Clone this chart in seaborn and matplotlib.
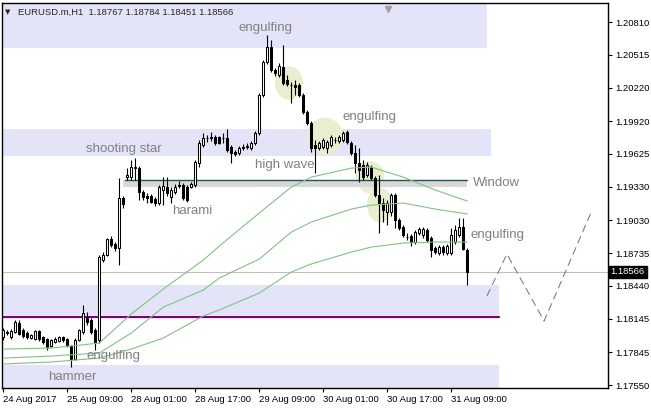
import matplotlib
matplotlib.use("Agg")
import matplotlib.pyplot as plt
from matplotlib.patches import Rectangle, Ellipse
import pandas as pd
import seaborn as sns

# ---------------------------------------------------------------------------
# Data (EURUSD H1)
# ---------------------------------------------------------------------------

OPENS = [
    1.17981, 1.18026, 1.17981, 1.18026, 1.18107, 1.18044, 1.18017, 1.17972, 1.17963, 1.18035,
    1.17981, 1.17963, 1.17900, 1.17936, 1.17945, 1.17981, 1.17963, 1.17900, 1.17783, 1.17954,
    1.18026, 1.18152, 1.18134, 1.18044, 1.17954, 1.18672, 1.18717, 1.18861, 1.18816, 1.18780,
    1.19229, 1.19417, 1.19417, 1.19498, 1.19498, 1.19283, 1.19247, 1.19247, 1.19220, 1.19184,
    1.19301, 1.19328, 1.19238, 1.19283, 1.19346, 1.19346, 1.19328, 1.19328, 1.19346, 1.19543,
    1.19705, 1.19768, 1.19768, 1.19777, 1.19777, 1.19768, 1.19768, 1.19687, 1.19642, 1.19633,
    1.19687, 1.19696, 1.19678, 1.19723, 1.19813, 1.20154, 1.20451, 1.20586, 1.20379, 1.20334,
    1.20406, 1.20289, 1.20244, 1.20244, 1.20244, 1.20154, 1.20002, 1.19903, 1.19705, 1.19678,
    1.19687, 1.19678, 1.19705, 1.19750, 1.19741, 1.19750, 1.19822, 1.19723, 1.19633, 1.19543,
    1.19525, 1.19435, 1.19507, 1.19408, 1.19256, 1.19184, 1.19103, 1.19103, 1.19256, 1.19032,
    1.18969, 1.18879, 1.18888, 1.18834, 1.18915, 1.18897, 1.18942, 1.18870, 1.18780, 1.18735,
    1.18789, 1.18735, 1.18735, 1.18834, 1.18897, 1.18969, 1.18767,
]
HIGHS = [
    1.18062, 1.18044, 1.18053, 1.18134, 1.18134, 1.18062, 1.18035, 1.18008, 1.18044, 1.18044,
    1.17990, 1.17972, 1.17963, 1.17981, 1.17990, 1.17990, 1.17972, 1.17909, 1.17972, 1.18053,
    1.18269, 1.18206, 1.18152, 1.18062, 1.18717, 1.18744, 1.18870, 1.18888, 1.18834, 1.19408,
    1.19247, 1.19498, 1.19570, 1.19588, 1.19516, 1.19301, 1.19274, 1.19265, 1.19238, 1.19346,
    1.19417, 1.19417, 1.19328, 1.19355, 1.19381, 1.19363, 1.19346, 1.19372, 1.19570, 1.19750,
    1.19813, 1.19795, 1.19822, 1.19795, 1.19786, 1.19813, 1.19849, 1.19705, 1.19660, 1.19696,
    1.19714, 1.19723, 1.19741, 1.19831, 1.20172, 1.20469, 1.20693, 1.20648, 1.20397, 1.20442,
    1.20603, 1.20334, 1.20271, 1.20289, 1.20262, 1.20172, 1.20020, 1.19921, 1.19750, 1.19741,
    1.19768, 1.19750, 1.19795, 1.19777, 1.19795, 1.19831, 1.19840, 1.19741, 1.19705, 1.19678,
    1.19570, 1.19552, 1.19525, 1.19426, 1.19435, 1.19229, 1.19211, 1.19274, 1.19274, 1.19050,
    1.18987, 1.18915, 1.18906, 1.18942, 1.18969, 1.18969, 1.18960, 1.18888, 1.18798, 1.18807,
    1.18807, 1.18816, 1.18960, 1.18987, 1.19050, 1.19050, 1.18784,
]
LOWS = [
    1.17954, 1.17999, 1.17963, 1.18017, 1.17999, 1.17972, 1.17963, 1.17963, 1.17954, 1.17945,
    1.17918, 1.17864, 1.17891, 1.17927, 1.17936, 1.17936, 1.17891, 1.17711, 1.17774, 1.17945,
    1.18008, 1.18089, 1.18008, 1.17864, 1.17927, 1.18654, 1.18708, 1.18789, 1.18753, 1.18628,
    1.19139, 1.19390, 1.19390, 1.19390, 1.19211, 1.19211, 1.19184, 1.19184, 1.19157, 1.19166,
    1.19166, 1.19247, 1.19184, 1.19265, 1.19319, 1.19211, 1.19193, 1.19319, 1.19328, 1.19507,
    1.19687, 1.19732, 1.19741, 1.19705, 1.19714, 1.19723, 1.19642, 1.19543, 1.19606, 1.19615,
    1.19660, 1.19669, 1.19660, 1.19705, 1.19795, 1.20136, 1.20433, 1.20361, 1.20325, 1.20316,
    1.20244, 1.20235, 1.20083, 1.20154, 1.20136, 1.19984, 1.19885, 1.19642, 1.19453, 1.19660,
    1.19669, 1.19633, 1.19687, 1.19723, 1.19723, 1.19732, 1.19714, 1.19615, 1.19453, 1.19372,
    1.19390, 1.19417, 1.19390, 1.19238, 1.18915, 1.19014, 1.18987, 1.19068, 1.18960, 1.18942,
    1.18879, 1.18852, 1.18798, 1.18816, 1.18897, 1.18870, 1.18834, 1.18699, 1.18726, 1.18717,
    1.18717, 1.18717, 1.18717, 1.18816, 1.18879, 1.18762, 1.18451,
]
CLOSES = [
    1.18044, 1.18017, 1.18035, 1.18116, 1.18008, 1.17990, 1.17981, 1.17999, 1.18035, 1.17963,
    1.17936, 1.17891, 1.17954, 1.17963, 1.17981, 1.17954, 1.17909, 1.17783, 1.17954, 1.18044,
    1.18197, 1.18116, 1.18026, 1.17936, 1.18699, 1.18717, 1.18861, 1.18807, 1.18780, 1.19229,
    1.19175, 1.19435, 1.19507, 1.19507, 1.19283, 1.19238, 1.19229, 1.19193, 1.19184, 1.19328,
    1.19337, 1.19274, 1.19301, 1.19328, 1.19341, 1.19229, 1.19211, 1.19355, 1.19552, 1.19723,
    1.19768, 1.19772, 1.19777, 1.19723, 1.19723, 1.19764, 1.19660, 1.19633, 1.19628, 1.19678,
    1.19683, 1.19692, 1.19723, 1.19813, 1.20154, 1.20451, 1.20586, 1.20379, 1.20352, 1.20415,
    1.20262, 1.20253, 1.20240, 1.20226, 1.20154, 1.20002, 1.19903, 1.19678, 1.19678, 1.19723,
    1.19750, 1.19732, 1.19777, 1.19746, 1.19777, 1.19813, 1.19732, 1.19633, 1.19543, 1.19480,
    1.19417, 1.19525, 1.19408, 1.19256, 1.19184, 1.19121, 1.19184, 1.19256, 1.19032, 1.18960,
    1.18897, 1.18875, 1.18834, 1.18924, 1.18951, 1.18951, 1.18852, 1.18762, 1.18744, 1.18789,
    1.18744, 1.18798, 1.18897, 1.18942, 1.18969, 1.18771, 1.18566,
]

# three moving averages, sampled at these bars
MA_BARS = [0, 12, 24, 32, 40, 50, 54, 64, 72, 77, 87, 92, 100, 108, 116]
MA_FAST = [1.17873, 1.17882, 1.17927, 1.18188, 1.18412, 1.18672, 1.18798, 1.19095,
           1.19328, 1.19417, 1.19498, 1.19507, 1.19417, 1.19301, 1.19202]
MA_MID = [1.17792, 1.17810, 1.17837, 1.18017, 1.18250, 1.18403, 1.18511, 1.18681,
          1.18924, 1.19014, 1.19130, 1.19166, 1.19184, 1.19130, 1.19086]
MA_SLOW = [1.17739, 1.17757, 1.17792, 1.17873, 1.17972, 1.18170, 1.18224, 1.18376,
           1.18565, 1.18637, 1.18744, 1.18789, 1.18825, 1.18834, 1.18834]

# hand-drawn forecast zigzag
PATH_BARS = [120.9, 125.9, 135.2, 147.2]
PATH_PRICES = [1.18349, 1.18726, 1.18125, 1.19121]

# support / resistance zones (low, high, last bar)
ZONES = [(1.20577, 1.2100, 120.9), (1.19606, 1.19849, 121.9),
         (1.18179, 1.18448, 123.9), (1.17500, 1.17730, 123.9)]
WINDOW = (1.19328, 1.19395)
PURPLE_LEVEL = 1.18161
LAST_PRICE = 1.18566

Y_TICKS = [1.20810, 1.20515, 1.20220, 1.19920, 1.19625, 1.19330,
           1.19030, 1.18735, 1.18440, 1.18145, 1.17845, 1.17550]
X_TICK_BARS = [0, 16, 32, 48, 64, 80, 96, 112]
X_TICK_LABELS = ["24 Aug 2017", "25 Aug 09:00", "28 Aug 01:00", "28 Aug 17:00",
                 "29 Aug 09:00", "30 Aug 01:00", "30 Aug 17:00", "31 Aug 09:00"]

PATTERNS = [
    ("engulfing", 58.7, 1.20756), ("shooting star", 20.7, 1.19669),
    ("harami", 42.2, 1.19113), ("high wave", 62.9, 1.19525),
    ("engulfing", 84.7, 1.19957), ("Window", 117.4, 1.19364),
    ("engulfing", 116.7, 1.18897), ("engulfing", 20.7, 1.17810),
    ("hammer", 11.2, 1.17622),
]

sns.set_style("white")
plt.rcParams["font.family"] = ["Liberation Sans", "DejaVu Sans"]

fig = plt.figure(figsize=(6.51, 4.09), dpi=100)
ax = fig.add_axes([2.3 / 651, 21.3 / 409, 606 / 651, 384.4 / 409])
ax.set_xlim(-0.25, 151.25)
ax.set_ylim(1.17526, 1.20978)

# background objects
for low, high, end in ZONES:
    ax.add_patch(Rectangle((-1, low), end + 1, high - low, color="#e4e4f8", lw=0, zorder=0))
ax.add_patch(Rectangle((30, WINDOW[0]), 86, WINDOW[1] - WINDOW[0], color="#d8d8d8", lw=0, zorder=0.5))
ax.plot([30.5, 116], [WINDOW[1]] * 2, color="#2f4f4f", lw=1.0, zorder=0.6)
for cx, cy, w, h in [(71.4, 1.20262, 7, 0.0030), (80.4, 1.19786, 9, 0.0033),
                     (91.7, 1.19417, 7, 0.0029), (94.2, 1.19166, 6.5, 0.0031)]:
    ax.add_patch(Ellipse((cx, cy), w, h, color="#e8eecf", lw=0, zorder=0.4))
ax.axhline(LAST_PRICE, color="#c0c0c0", lw=0.8, zorder=0.7)
ax.plot([-1, 123.9], [PURPLE_LEVEL] * 2, color="#800080", lw=1.6, zorder=1)

# candles
for i, (o, h, l, c) in enumerate(zip(OPENS, HIGHS, LOWS, CLOSES)):
    ax.vlines(i, l, h, color="black", lw=0.8, zorder=2)
    face = "white" if c >= o else "black"
    ax.bar(i, max(abs(c - o), 0.00001), bottom=min(o, c), width=0.55,
           color=face, edgecolor="black", lw=0.75, zorder=3)

# moving averages
ma = pd.DataFrame({
    "bar": MA_BARS * 3,
    "price": MA_FAST + MA_MID + MA_SLOW,
    "ma": ["fast"] * len(MA_BARS) + ["mid"] * len(MA_BARS) + ["slow"] * len(MA_BARS),
})
sns.lineplot(data=ma, x="bar", y="price", hue="ma", palette=["#82c282"] * 3,
             legend=False, lw=0.8, ax=ax, zorder=4)

ax.plot(PATH_BARS, PATH_PRICES, color="#808080", lw=0.8, ls=(0, (7, 4)), zorder=4)

for text, x, y in PATTERNS:
    ax.text(x, y, text, color="#808080", fontsize=9.5, ha="left", va="center", zorder=5)

# axes styling, MT4 look
for sp in ax.spines.values():
    sp.set_color("black")
    sp.set_linewidth(1.0)
ax.yaxis.tick_right()
ax.set_yticks(Y_TICKS)
ax.set_yticklabels([f"{v:.5f}" for v in Y_TICKS])
ax.set_xticks(X_TICK_BARS)
ax.set_xticklabels(X_TICK_LABELS, ha="left")
ax.tick_params(axis="y", which="both", right=True, left=False, direction="out",
               length=3, width=0.8, pad=2, labelsize=6.8, colors="black")
ax.tick_params(axis="x", bottom=True, direction="out", length=3, width=0.8,
               pad=2, labelsize=6.8, colors="black")
ax.set_xlabel("")
ax.set_ylabel("")

ax.text(1.004, LAST_PRICE, f"{LAST_PRICE:.5f}", transform=ax.get_yaxis_transform(),
        color="white", fontsize=6.8, va="center", ha="left", clip_on=False,
        bbox=dict(facecolor="black", edgecolor="black", pad=1.2), zorder=6)

fig.text(5 / 651, 1 - 12 / 409, "\u25bc", fontsize=5, va="center", ha="left",
         family="DejaVu Sans")
fig.text(18 / 651, 1 - 12 / 409, "EURUSD.m,H1  1.18767 1.18784 1.18451 1.18566",
         fontsize=6.8, va="center", ha="left")
ax.plot([96.2], [1.20930], marker="v", color="#a0a0a0", ms=5, clip_on=False, zorder=6)

fig.savefig("out.png", dpi=100)
